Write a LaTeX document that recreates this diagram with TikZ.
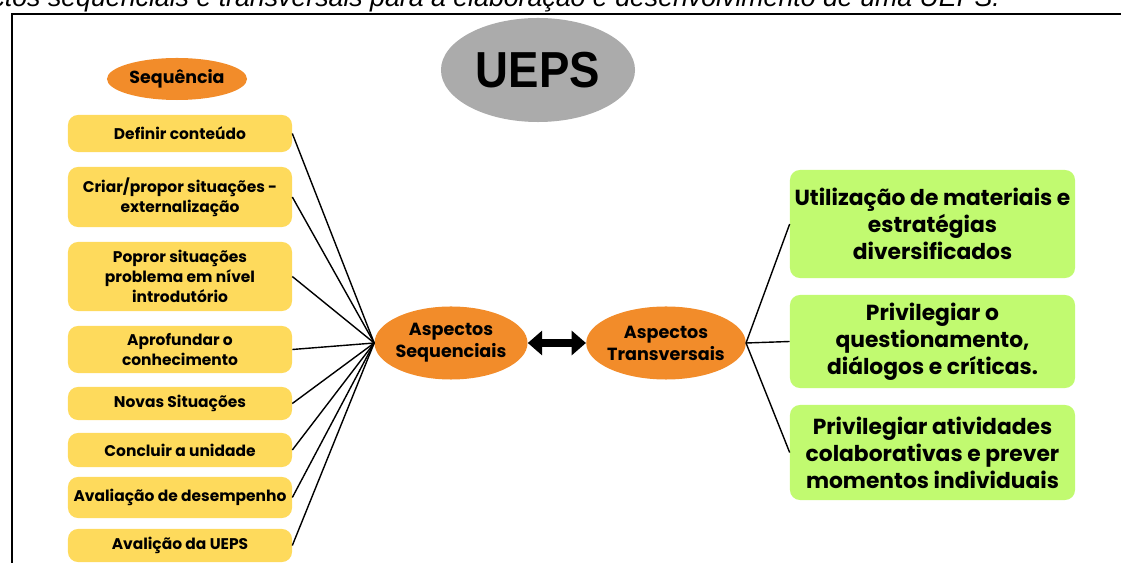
\documentclass[tikz,border=0pt]{standalone}
\usepackage{fontspec}
\setmainfont{Poppins}
\newfontfamily\uepsfont{Liberation Sans}[FakeStretch=0.9]
\newfontfamily\legendafont{Liberation Sans}
\usepackage{tikz}
\usetikzlibrary{shapes.geometric, arrows, arrows.meta}
\definecolor{cinza}{RGB}{171,171,171}
\definecolor{laranja}{RGB}{242,140,42}
\definecolor{amarelo}{RGB}{254,218,92}
\definecolor{verde}{RGB}{193,250,112}
\tikzstyle{titulo} = [ellipse, fill=cinza, minimum width=4.85cm, minimum height=2.6cm, inner sep=0pt, font=\uepsfont\bfseries\fontsize{36}{40}\selectfont]
\tikzstyle{rotulo} = [ellipse, fill=laranja, minimum width=3.5cm, minimum height=1.05cm, inner sep=0pt, font=\bfseries\fontsize{12.4}{14}\selectfont]
\tikzstyle{aspecto} = [ellipse, fill=laranja, minimum width=3.825cm, minimum height=1.825cm, inner xsep=-0.06cm, inner ysep=0pt, text centered, align=center, font=\bfseries\fontsize{12.5}{15.6}\selectfont]
\tikzstyle{etapa} = [rectangle, rounded corners=0.25cm, minimum width=5.6cm, fill=amarelo, inner sep=0pt, text centered, align=center, font=\bfseries\fontsize{11}{14.2}\selectfont]
\tikzstyle{principio} = [rectangle, rounded corners=0.25cm, minimum width=7.125cm, fill=verde, inner sep=0pt, text centered, align=center, font=\bfseries\fontsize{15.5}{19.2}\selectfont]
\tikzstyle{line} = [line width=0.035cm]
\tikzstyle{bothway} = [line width=0.2cm, {Triangle[width=0.6cm,length=0.36cm]}-{Triangle[width=0.6cm,length=0.36cm]}]

\begin{document}
\begin{tikzpicture}[x=0.025cm, y=-0.025cm]
	\useasboundingbox (0,0) rectangle (1121,563);
	\clip (0,0) rectangle (1121,563);
	
	% Frame and caption
	\node (legenda) [anchor=base east, font=\legendafont\itshape\fontsize{19}{22}\selectfont] at (1005,7) {Aspectos sequenciais e transversais para a elaboração e desenvolvimento de uma UEPS.};
	\draw [line width=0.05cm] (12,600) -- (12,14) -- (1160,14);
	
	% Nodes
	\node (ueps) [titulo] at (538,70) {UEPS};
	\node (sequencia) [rotulo] at (177,79) {Sequência};
	
	\node (definir) [etapa, minimum height=0.925cm] at (180,133.5) {Definir conteúdo};
	\node (criar) [etapa, minimum height=1.5cm] at (180,197) {Criar/propor situações -\\externalização};
	\node (popror) [etapa, minimum height=1.725cm] at (180,276.5) {Popror situações\\problema em nível\\introdutório};
	\node (aprofundar) [etapa, minimum height=1.175cm] at (180,349.5) {Aprofundar o\\conhecimento};
	\node (novas) [etapa, minimum height=0.825cm] at (180,403.5) {Novas Situações};
	\node (concluir) [etapa, minimum height=0.85cm] at (180,450) {Concluir a unidade};
	\node (desempenho) [etapa, minimum height=1.025cm] at (180,497.5) {Avaliação de desempenho};
	\node (avalicao) [etapa, minimum height=0.825cm] at (180,545.5) {Avalição da UEPS};
	
	\node (sequenciais) [aspecto] at (451,343) {Aspectos\\Sequenciais};
	\node (transversais) [aspecto] at (666,343) {Aspectos\\Transversais};
	
	\node (materiais) [principio, minimum height=2.7cm] at (932.5,224) {Utilização de materiais e\\estratégias\\diversificados};
	\node (questionamento) [principio, minimum height=2.325cm] at (932.5,341.5) {Privilegiar o\\questionamento,\\diálogos e críticas.};
	\node (colaborativas) [principio, minimum height=2.375cm] at (932.5,452.5) {Privilegiar atividades\\colaborativas e prever\\momentos individuais};
	
	% Arrows
	\foreach \etapa in {definir, criar, popror, aprofundar, novas, concluir, desempenho, avalicao}
		\draw [line] (\etapa.east) -- (sequenciais.west);
	\foreach \principio in {materiais, questionamento, colaborativas}
		\draw [line] (transversais.east) -- (\principio.west);
	\draw [bothway] (sequenciais) -- (transversais);
	
\end{tikzpicture}
\end{document}
